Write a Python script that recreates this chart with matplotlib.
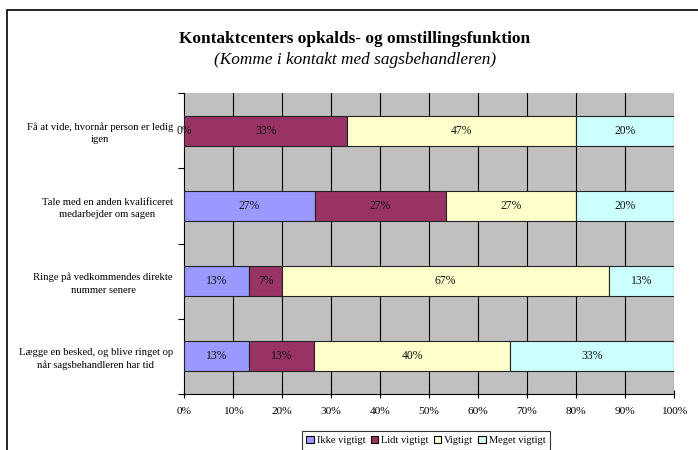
import numpy as np
import matplotlib.pyplot as plt
from matplotlib.patches import Rectangle

plt.rcParams['font.family'] = ['Liberation Serif', 'DejaVu Serif']

# svarkategorier og andel i procent for hver kategori
categories = [
    "Få at vide, hvornår person er ledig\nigen",
    "Tale med en anden kvalificeret\nmedarbejder om sagen",
    "Ringe på vedkommendes direkte\nnummer senere",
    "Lægge en besked, og blive ringet op\nnår sagsbehandleren har tid",
]
series = ["Ikke vigtigt", "Lidt vigtigt", "Vigtigt", "Meget vigtigt"]
ikke_vigtigt = [0.0, 26.7, 13.3, 13.3]
lidt_vigtigt = [33.3, 26.7, 6.7, 13.3]
vigtigt = [46.7, 26.7, 66.7, 40.0]
meget_vigtigt = [20.0, 20.0, 13.3, 33.3]
x_ticks = [0, 10, 20, 30, 40, 50, 60, 70, 80, 90, 100]

colors = ["#9999FF", "#993366", "#FFFFCC", "#CCFFFF"]

fig = plt.figure(figsize=(6.98, 4.5), dpi=100)
ax = fig.add_axes([184 / 698, 1 - 394 / 450, 490 / 698, 301 / 450])
ax.set_facecolor("#C0C0C0")

y = np.arange(len(categories))
left = np.zeros(len(categories))
for name, vals, col in zip(series, [ikke_vigtigt, lidt_vigtigt, vigtigt, meget_vigtigt], colors):
    vals = np.array(vals)
    ax.barh(y, vals, left=left, height=0.4, color=col, edgecolor="#222222",
            linewidth=0.8, label=name, zorder=3)
    for yi, l, v in zip(y, left, vals):
        ax.text(l + v / 2, yi, f"{v:.0f}%", ha="center", va="center",
                fontsize=8.4, color="#111111", zorder=4)
    left += vals

ax.set_xlim(0, 100)
ax.set_ylim(len(categories) - 0.5, -0.5)

# lodrette gitterlinjer for hver 10%
for t in x_ticks[1:]:
    ax.axvline(t, color="black", linewidth=0.8, zorder=1)

ax.set_xticks(x_ticks)
ax.set_xticklabels([f"{t}%" for t in x_ticks], fontsize=8.2)
ax.tick_params(axis="x", direction="inout", length=6, width=0.8, pad=6)

ax.set_yticks(np.arange(-0.5, len(categories), 1.0))
ax.set_yticklabels([])
ax.tick_params(axis="y", direction="out", length=4, width=0.8)
ax.set_yticks(y, minor=True)
ax.set_yticklabels(categories, minor=True, fontsize=7.7,
                   multialignment="center", linespacing=1.45)
ax.tick_params(axis="y", which="minor", length=0, pad=8)

for s in ["top", "right"]:
    ax.spines[s].set_visible(False)
ax.spines["left"].set_linewidth(0.8)
ax.spines["bottom"].set_linewidth(0.8)

fig.text(355 / 698, 1 - 39 / 450, "Kontaktcenters opkalds- og omstillingsfunktion",
         ha="center", va="center", fontsize=12.4, fontweight="bold")
fig.text(355 / 698, 1 - 60 / 450, "(Komme i kontakt med sagsbehandleren)",
         ha="center", va="center", fontsize=12.4, fontstyle="italic")

leg = fig.legend(loc="upper center", bbox_to_anchor=(426 / 698, 1 - 431 / 450), ncol=4,
                 fontsize=7.5, frameon=True, fancybox=False, handlelength=0.7,
                 handleheight=0.7, handletextpad=0.3, columnspacing=0.5,
                 borderpad=0.45, borderaxespad=0)
leg.get_frame().set_edgecolor("black")
leg.get_frame().set_linewidth(0.8)
for h in leg.legend_handles:
    h.set_edgecolor("black")

# ramme om diagramområdet
fig.patches.append(Rectangle((7 / 698, -0.1), 1.2, 1 - 10 / 450 + 0.1,
                             transform=fig.transFigure, fill=False,
                             edgecolor="black", linewidth=1.2))

fig.savefig("out.png", dpi=100)
